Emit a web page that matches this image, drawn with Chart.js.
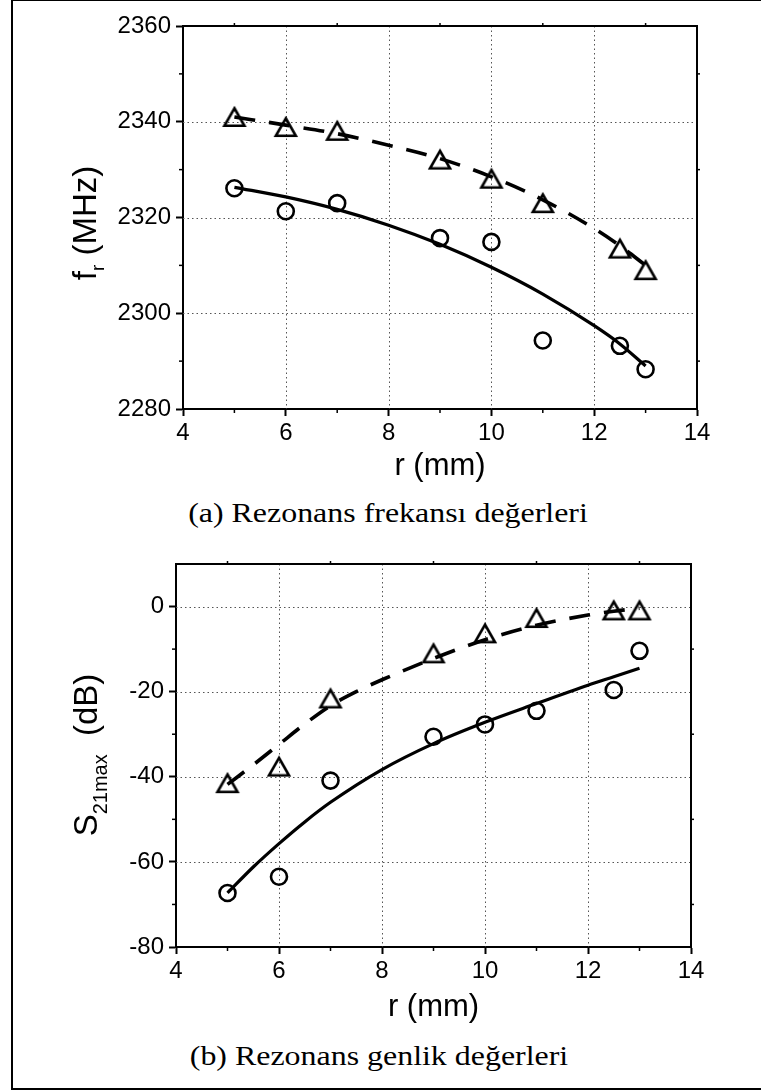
<!DOCTYPE html>
<html>
<head>
<meta charset="utf-8">
<script src="https://cdn.jsdelivr.net/npm/chart.js@4.4.0/dist/chart.umd.min.js"></script>
<style>
html,body{margin:0;padding:0;background:#fff;}
body{width:761px;height:1090px;position:relative;overflow:hidden;}
#frame{position:absolute;left:11px;top:0;width:800px;height:1090px;border-left:2px solid #000;border-top:1px solid #000;border-bottom:2px solid #000;box-sizing:border-box;}
canvas{position:absolute;left:0;}
#c1{top:0;}
#c2{top:530px;}
.cap{position:absolute;font-family:"Liberation Serif","Times New Roman",serif;font-size:28px;line-height:1;white-space:nowrap;color:#000;transform:translateX(-50%) scaleX(1.14);transform-origin:center;}
</style>
</head>
<body>
<div id="frame"></div>
<canvas id="c1" width="761" height="485"></canvas>
<canvas id="c2" width="761" height="496"></canvas>
<div class="cap" style="left:388px;top:499px;">(a) Rezonans frekansı değerleri</div>
<div class="cap" style="left:379px;top:1042px;">(b) Rezonans genlik değerleri</div>
<script>
// ---------- data ----------
const rPoints = [5, 6, 7, 9, 10, 11, 12.5, 13];

// (a) resonance frequency, MHz
const frCircle   = [2326.1, 2321.3, 2323.0, 2315.7, 2314.9, 2294.3, 2293.2, 2288.3];
const frTriangle = [2341.0, 2338.9, 2338.1, 2332.1, 2328.1, 2323.0, 2313.5, 2309.0];
const frFitR        = [5, 6, 7, 8, 9, 10, 11, 12, 12.5, 13];
const frCircleFit   = [2326.3, 2324.3, 2321.7, 2318.4, 2314.4, 2309.6, 2304.0, 2297.4, 2293.6, 2289.0];
const frTriangleFit = [2341.0, 2339.3, 2337.5, 2335.1, 2332.3, 2328.5, 2323.7, 2317.7, 2314.1, 2310.0];

// (b) S21max, dB
const sCircle   = [-67.3, -63.5, -40.9, -30.6, -27.7, -24.5, -19.6, -10.4];
const sTriangle = [-41.5, -37.6, -21.6, -11.0, -6.3, -2.7, -0.9, -0.9];
const sCircleFitR = [5, 5.5, 6, 6.5, 7, 8, 9, 10, 11, 12, 12.5, 13];
const sCircleFit  = [-67.3, -61.2, -55.7, -50.6, -46.0, -38.3, -32.2, -27.2, -22.8, -18.5, -16.5, -14.5];
const sTriFitR = [5, 5.5, 6, 6.5, 7, 7.5, 8, 9, 10, 11, 12, 12.5, 13];
const sTriFit  = [-41.8, -37.2, -32.4, -27.6, -23.3, -20.0, -17.2, -12.2, -7.8, -4.4, -2.0, -1.1, -0.4];

// tick setup
const xTicks = {min: 4, max: 14, step: 2, minor: [5, 7, 9, 11, 13]};
const y1Ticks = {min: 2280, max: 2360, step: 20, minor: [2290, 2310, 2330, 2350]};
const y2Ticks = {min: -80, max: 10, step: 20, minor: [-70, -50, -30, -10]};

// ---------- helpers ----------
const zip = (xs, ys) => xs.map((x, i) => ({x: x, y: ys[i]}));
const FONT = '"Liberation Sans", Arial, sans-serif';

function makeTriangle() {
  const c = document.createElement('canvas');
  c.width = 28; c.height = 26;
  const g = c.getContext('2d');
  const w = 20, h = 17.5, cx = 14, cy = 13;
  g.lineWidth = 2.6; g.strokeStyle = '#000'; g.lineJoin = 'miter';
  g.beginPath();
  g.moveTo(cx, cy - h / 2);
  g.lineTo(cx + w / 2, cy + h / 2);
  g.lineTo(cx - w / 2, cy + h / 2);
  g.closePath();
  g.stroke();
  return c;
}
const TRI = makeTriangle();

function decorPlugin(cfg) {
  return {
    id: 'decor',
    beforeDatasetsDraw(chart) {
      const ctx = chart.ctx, a = chart.chartArea;
      const xs = chart.scales.x, ys = chart.scales.y;
      ctx.save();
      ctx.strokeStyle = '#555'; ctx.lineWidth = 1; ctx.setLineDash([1.5, 3]);
      xs.ticks.forEach(t => {
        if (t.value <= xs.min || t.value >= xs.max) return;
        const px = Math.round(xs.getPixelForValue(t.value)) + 0.5;
        ctx.beginPath(); ctx.moveTo(px, a.top); ctx.lineTo(px, a.bottom); ctx.stroke();
      });
      ys.ticks.forEach(t => {
        if (t.value <= ys.min || t.value >= ys.max) return;
        const py = Math.round(ys.getPixelForValue(t.value)) + 0.5;
        ctx.beginPath(); ctx.moveTo(a.left, py); ctx.lineTo(a.right, py); ctx.stroke();
      });
      ctx.restore();
    },
    afterDraw(chart) {
      const ctx = chart.ctx, a = chart.chartArea;
      const xs = chart.scales.x, ys = chart.scales.y;
      ctx.save();
      ctx.strokeStyle = '#000'; ctx.lineWidth = 2; ctx.setLineDash([]);
      ctx.beginPath();
      ctx.moveTo(a.left - 1, a.top); ctx.lineTo(a.right, a.top); ctx.lineTo(a.right, a.bottom + 1);
      ctx.stroke();
      ctx.lineWidth = 1.5;
      cfg.xMinor.forEach(v => {
        const px = xs.getPixelForValue(v);
        ctx.beginPath(); ctx.moveTo(px, a.bottom); ctx.lineTo(px, a.bottom + 4); ctx.stroke();
        ctx.beginPath(); ctx.moveTo(px, a.top); ctx.lineTo(px, a.top - 3); ctx.stroke();
      });
      cfg.yMinor.forEach(v => {
        const py = ys.getPixelForValue(v);
        ctx.beginPath(); ctx.moveTo(a.left, py); ctx.lineTo(a.left - 4, py); ctx.stroke();
        ctx.beginPath(); ctx.moveTo(a.right, py); ctx.lineTo(a.right + 3, py); ctx.stroke();
      });
      const segs = cfg.title;
      let W = 0;
      segs.forEach(s => { ctx.font = s.size + 'px ' + FONT; s.w = ctx.measureText(s.t).width; W += s.w; });
      ctx.translate(cfg.titleX, cfg.titleY);
      ctx.rotate(-Math.PI / 2);
      ctx.fillStyle = '#000'; ctx.textBaseline = 'alphabetic'; ctx.textAlign = 'left';
      let x = -W / 2;
      segs.forEach(s => {
        ctx.font = s.size + 'px ' + FONT;
        ctx.fillText(s.t, x, s.dy || 0);
        x += s.w;
      });
      ctx.restore();
    }
  };
}

function makeChart(id, o) {
  const ctx = document.getElementById(id).getContext('2d');
  return new Chart(ctx, {
    type: 'scatter',
    data: {
      datasets: [
        {data: zip(o.fitCR, o.fitC), showLine: true, borderColor: '#000', borderWidth: 3.2, pointRadius: 0, tension: 0.4, cubicInterpolationMode: 'monotone', fill: false},
        {data: zip(o.fitTR, o.fitT), showLine: true, borderColor: '#000', borderWidth: 3.6, borderDash: [21, 14], borderCapStyle: 'butt', pointRadius: 0, tension: 0.4, cubicInterpolationMode: 'monotone', fill: false},
        {data: zip(rPoints, o.circ), showLine: false, pointStyle: 'circle', pointRadius: 8, borderWidth: 2.6, borderColor: '#000', backgroundColor: 'rgba(0,0,0,0)'},
        {data: zip(rPoints, o.tri), showLine: false, pointStyle: TRI, pointRadius: 10, borderColor: '#000', backgroundColor: 'rgba(0,0,0,0)'}
      ]
    },
    options: {
      responsive: false, animation: false, devicePixelRatio: 1,
      layout: {padding: {top: o.padTop, right: o.padRight, left: 0, bottom: 0}},
      plugins: {legend: {display: false}, tooltip: {enabled: false}},
      scales: {
        x: {
          type: 'linear', position: 'bottom', min: xTicks.min, max: xTicks.max,
          ticks: {stepSize: xTicks.step, color: '#000', font: {family: FONT, size: 24}, padding: 3, maxRotation: 0, callback: v => String(v)},
          grid: {display: true, drawOnChartArea: false, drawTicks: true, tickLength: 7, tickWidth: 2, tickColor: '#000', color: '#000'},
          border: {display: true, color: '#000', width: 2},
          title: {display: true, text: 'r (mm)', color: '#000', font: {family: FONT, size: 31}, padding: 0},
          afterFit: s => { s.height = o.xAxisH; }
        },
        y: {
          type: 'linear', position: 'left', min: o.yT.min, max: o.yT.max,
          ticks: {stepSize: o.yT.step, includeBounds: false, color: '#000', font: {family: FONT, size: 24}, padding: 5, callback: v => String(v)},
          grid: {display: true, drawOnChartArea: false, drawTicks: true, tickLength: 7, tickWidth: 2, tickColor: '#000', color: '#000'},
          border: {display: true, color: '#000', width: 2},
          afterFit: s => { s.width = o.yAxisW; }
        }
      }
    },
    plugins: [decorPlugin({xMinor: xTicks.minor, yMinor: o.yT.minor, title: o.title, titleX: o.titleX, titleY: o.titleY})]
  });
}

makeChart('c1', {
  fitCR: frFitR, fitC: frCircleFit, fitTR: frFitR, fitT: frTriangleFit,
  circ: frCircle, tri: frTriangle, yT: y1Ticks,
  padTop: 26, padRight: 64, xAxisH: 76, yAxisW: 183,
  title: [{t: 'f', size: 33}, {t: 'r', size: 19, dy: 8}, {t: ' (MHz)', size: 33}],
  titleX: 96, titleY: 223
});

makeChart('c2', {
  fitCR: sCircleFitR, fitC: sCircleFit, fitTR: sTriFitR, fitT: sTriFit,
  circ: sCircle, tri: sTriangle, yT: y2Ticks,
  padTop: 34, padRight: 70, xAxisH: 79, yAxisW: 176,
  title: [{t: 'S', size: 33}, {t: '21max', size: 20, dy: 10}, {t: '  (dB)', size: 33}],
  titleX: 97, titleY: 755 - 530
});
</script>
</body>
</html>
